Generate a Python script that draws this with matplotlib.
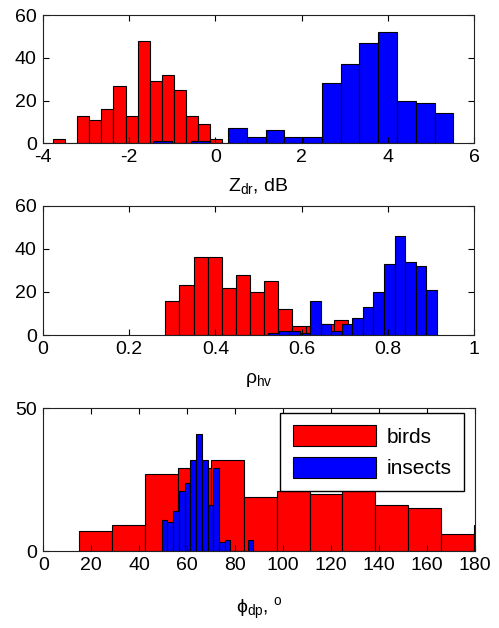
import numpy as np
import matplotlib
matplotlib.use("Agg")
import matplotlib.pyplot as plt

plt.rcParams['font.family'] = ['Liberation Sans', 'DejaVu Sans']
plt.rcParams['mathtext.fontset'] = 'custom'
plt.rcParams['mathtext.rm'] = 'Liberation Sans'
plt.rcParams['mathtext.it'] = 'Liberation Sans:italic'
plt.rcParams['font.size'] = 14

# histogram counts (MATLAB-style hist, equal bins between lo and hi)
zdr_birds = [2, 0, 13, 11, 16, 27, 13, 48, 29, 32, 25, 13, 9, 2]
zdr_birds_range = (-3.77, 0.16)
zdr_insects = [1, 0, 1, 0, 7, 3, 6, 3, 3, 28, 37, 47, 52, 20, 19, 14]
zdr_insects_range = (-1.446, 5.52)

rhohv_birds = [16, 23, 36, 36, 22, 28, 20, 25, 12, 4, 4, 5, 7]
rhohv_birds_range = (0.284, 0.708)
rhohv_insects = [1, 2, 2, 1, 16, 5, 2, 5, 8, 13, 20, 33, 46, 34, 32, 21]
rhohv_insects_range = (0.5224, 0.9133)

phidp_birds = [7, 9, 27, 29, 32, 19, 21, 20, 22, 16, 15, 6, 9]
phidp_birds_range = (15.0, 193.3)
phidp_insects = [11, 10, 14, 21, 24, 32, 41, 32, 16, 29, 3, 4, 0, 0, 0, 4]
phidp_insects_range = (49.35, 87.6)

xlabels = [r'Z$_{\rm dr}$, dB', r'ρ$_{\rm hv}$', r'ϕ$_{\rm dp}$, $^{\rm o}$']
xlims = [(-4, 6), (0, 1), (0, 180)]
xticks = [[-4, -2, 0, 2, 4, 6], [0, 0.2, 0.4, 0.6, 0.8, 1], list(range(0, 181, 20))]
xticklabels = [['-4', '-2', '0', '2', '4', '6'], ['0', '0.2', '0.4', '0.6', '0.8', '1'],
               [str(v) for v in range(0, 181, 20)]]
ylims = [(0, 60), (0, 60), (0, 50)]
yticks = [[0, 20, 40, 60], [0, 20, 40, 60], [0, 50]]

W, H = 499, 628
fig = plt.figure(figsize=(W / 100, H / 100), dpi=100)
# axes boxes in pixels: left, top, right, bottom
boxes = [(43, 15, 474, 143.3), (43, 205.7, 474, 335), (43.3, 408.3, 475, 551)]
labelpads = [7, 10, 16]

data = [(zdr_birds, zdr_birds_range, zdr_insects, zdr_insects_range),
        (rhohv_birds, rhohv_birds_range, rhohv_insects, rhohv_insects_range),
        (phidp_birds, phidp_birds_range, phidp_insects, phidp_insects_range)]


def hbar(ax, counts, rng, color, label):
    edges = np.linspace(rng[0], rng[1], len(counts) + 1)
    return ax.bar(edges[:-1], counts, width=np.diff(edges), align='edge',
                  color=color, edgecolor='black', linewidth=0.8, label=label)


axes = []
for i, (l, t, r, b) in enumerate(boxes):
    ax = fig.add_axes([l / W, 1 - b / H, (r - l) / W, (b - t) / H])
    bc, br, ic, ir = data[i]
    hbar(ax, bc, br, '#ff0000', 'birds')
    hbar(ax, ic, ir, '#0000ff', 'insects')
    ax.set_xlim(*xlims[i])
    ax.set_ylim(*ylims[i])
    ax.set_xticks(xticks[i])
    ax.set_xticklabels(xticklabels[i])
    ax.set_yticks(yticks[i])
    ax.tick_params(direction='in', top=True, right=True, length=4, width=0.8,
                   labelsize=14, pad=4.5)
    ax.tick_params(axis='x', pad=4)
    for s in ax.spines.values():
        s.set_linewidth(0.8)
        s.set_color('#222222')
    ax.set_xlabel(xlabels[i], fontsize=14, labelpad=labelpads[i])
    axes.append(ax)

leg = axes[2].legend(loc='upper right', bbox_to_anchor=(464 / W, 1 - 412.7 / H),
                     bbox_transform=fig.transFigure, borderaxespad=0,
                     handlelength=4.0, handleheight=1.15, fancybox=False,
                     framealpha=1, edgecolor='black', fontsize=15,
                     borderpad=0.6, labelspacing=0.5, handletextpad=0.5)
leg.get_frame().set_linewidth(1.0)

fig.savefig('out.png', dpi=100)
